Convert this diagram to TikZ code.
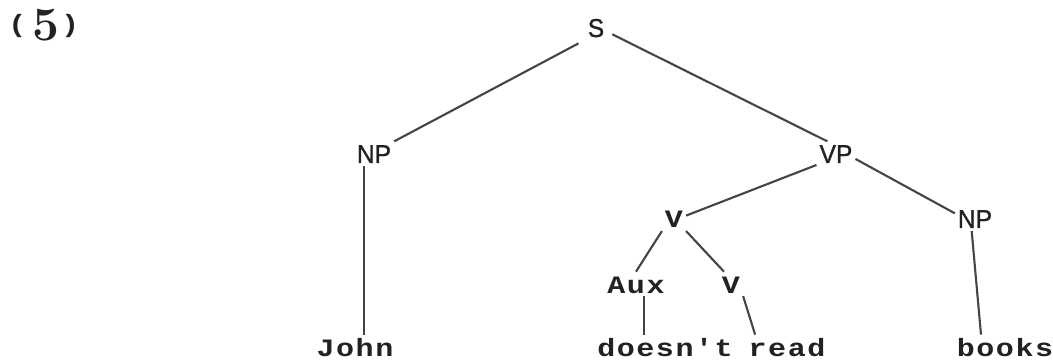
\documentclass[tikz,border=0pt]{standalone}
\usepackage{fontspec}
\newfontfamily\catfont[FakeStretch=0.95,FakeBold=1]{Liberation Sans}
\newfontfamily\wordfont[FakeStretch=1.2,LetterSpace=6]{Liberation Mono}
\definecolor{ink}{HTML}{222222}
\definecolor{branchgray}{HTML}{444444}
\begin{document}
\begin{tikzpicture}[x=0.025cm, y=-0.025cm,
  cat/.style={anchor=base, inner sep=2pt, text=ink, font=\catfont\fontsize{18.4}{19}\selectfont, text height=13.2pt, text depth=0pt},
  word/.style={anchor=base, inner sep=2pt, text=ink, font=\wordfont\bfseries\fontsize{17.8}{18}\selectfont, text height=13pt, text depth=0pt},
  branch/.style={draw=branchgray, line width=1.5pt}]
\useasboundingbox (0,0) rectangle (1053,360);
\node [word, inner sep=0pt, text height=, anchor=base west] (num) at (8,33)
  {(\hspace{0.15cm}{\normalfont\bfseries\fontsize{34}{34}\selectfont\raisebox{-0.2cm}{5}}\hspace{0.05cm})};
% categories
\node [cat] (s) at (596,37) {S};
\node [cat] (np1) at (374,163) {NP};
\node [cat] (vp) at (836,163) {VP};
\node [word] (v1) at (674,228) {V};
\node [cat] (np2) at (975,228) {NP};
\node [word] (aux) at (636,293) {Aux};
\node [word] (v2) at (731,293) {V};
% words
\node [word] (john) at (355,356) {John};
\node [word] (doesnt) at (665,356) {doesn't};
\node [word] (read) at (787,356) {read};
\node [word] (books) at (1005,356) {books};
% branches
\draw [branch, shorten <=5pt] (s.south west) -- (np1.north east);
\draw [branch, shorten <=4pt] (s.-20) -- (vp.125);
\draw [branch] (np1.-128) -- (np1.-128 |- john.north);
\draw [branch] (vp.-150) -- (v1.15);
\draw [branch] (vp.-15) -- (np2.165);
\draw [branch] (v1.south west) -- (aux.north);
\draw [branch] (v1.south east) -- (v2.120);
\draw [branch] (aux.-56) -- (aux.-56 |- doesnt.north);
\draw [branch] (v2.south east) -- (read.159);
\draw [branch] (np2.-105) -- (books.153);
\end{tikzpicture}
\end{document}
